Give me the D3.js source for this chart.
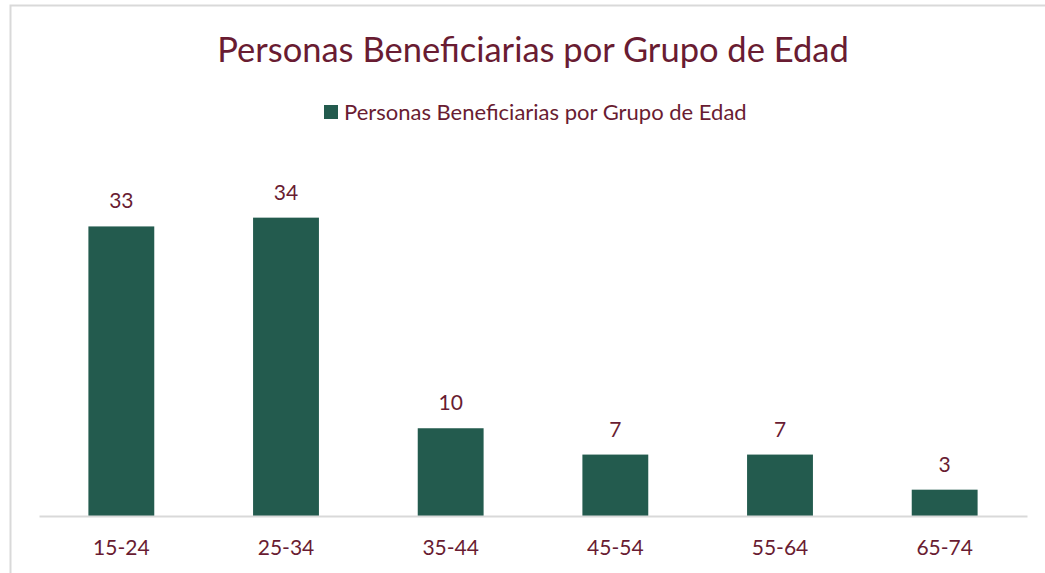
<!DOCTYPE html>
<html>
<head>
<meta charset="utf-8">
<script src="https://cdn.jsdelivr.net/npm/d3@7"></script>
<style>
  body { margin: 0; background: #fff; }
  svg { display: block; font-family: Lato, "Open Sans", sans-serif; }
</style>
</head>
<body>
<div id="chart"></div>
<script>
// data
const titulo = "Personas Beneficiarias por Grupo de Edad";
const grupos = ["15-24", "25-34", "35-44", "45-54", "55-64", "65-74"];
const personas = [33, 34, 10, 7, 7, 3];

const width = 1045, height = 573;
const guinda = "#691c32", verde = "#235b4e";
const margin = {top: 165, right: 18, bottom: 57, left: 39};

const svg = d3.select("#chart").append("svg")
  .attr("width", width)
  .attr("height", height);

// chart border (only left and top show in the picture)
svg.append("path")
  .attr("d", "M10.5," + height + "V5.5H" + width)
  .attr("fill", "none")
  .attr("stroke", "#d9d9d9")
  .attr("stroke-width", 2);

var x = d3.scaleBand()
  .domain(grupos)
  .range([margin.left, width - margin.right])
  .paddingInner(0.6)
  .paddingOuter(0.3);

var y = d3.scaleLinear()
  .domain([0, 40])
  .range([height - margin.bottom, margin.top]);

// title
svg.append("text")
  .attr("x", 533)
  .attr("y", 62)
  .attr("text-anchor", "middle")
  .attr("fill", guinda)
  .style("font-size", "34.5px")
  .text(titulo);

// legend
var legend = svg.append("g").attr("transform", "translate(324,105)");
legend.append("rect")
  .attr("width", 14).attr("height", 14)
  .attr("fill", verde);
legend.append("text")
  .attr("x", 20)
  .attr("y", 14.5)
  .attr("fill", guinda)
  .style("font-size", "22px")
  .text(titulo);

// bars
svg.append("g")
  .selectAll("rect")
  .data(personas)
  .enter()
  .append("rect")
  .attr("x", (d, i) => x(grupos[i]))
  .attr("y", d => y(d))
  .attr("width", x.bandwidth())
  .attr("height", d => y(0) - y(d))
  .attr("fill", verde);

// value labels
svg.append("g")
  .selectAll("text")
  .data(personas)
  .enter()
  .append("text")
  .attr("x", (d, i) => x(grupos[i]) + x.bandwidth() / 2)
  .attr("y", d => y(d) - 18)
  .attr("text-anchor", "middle")
  .attr("fill", guinda)
  .style("font-size", "21px")
  .text(d => d);

// x axis
var xAxis = svg.append("g")
  .attr("transform", "translate(0," + y(0) + ")")
  .call(d3.axisBottom(x).tickSize(0).tickPadding(24));
xAxis.select(".domain").attr("stroke", "#d9d9d9").attr("stroke-width", 2);
xAxis.selectAll("text")
  .attr("fill", guinda)
  .style("font-size", "21px")
  .style("font-family", "Lato, 'Open Sans', sans-serif");
</script>
</body>
</html>
